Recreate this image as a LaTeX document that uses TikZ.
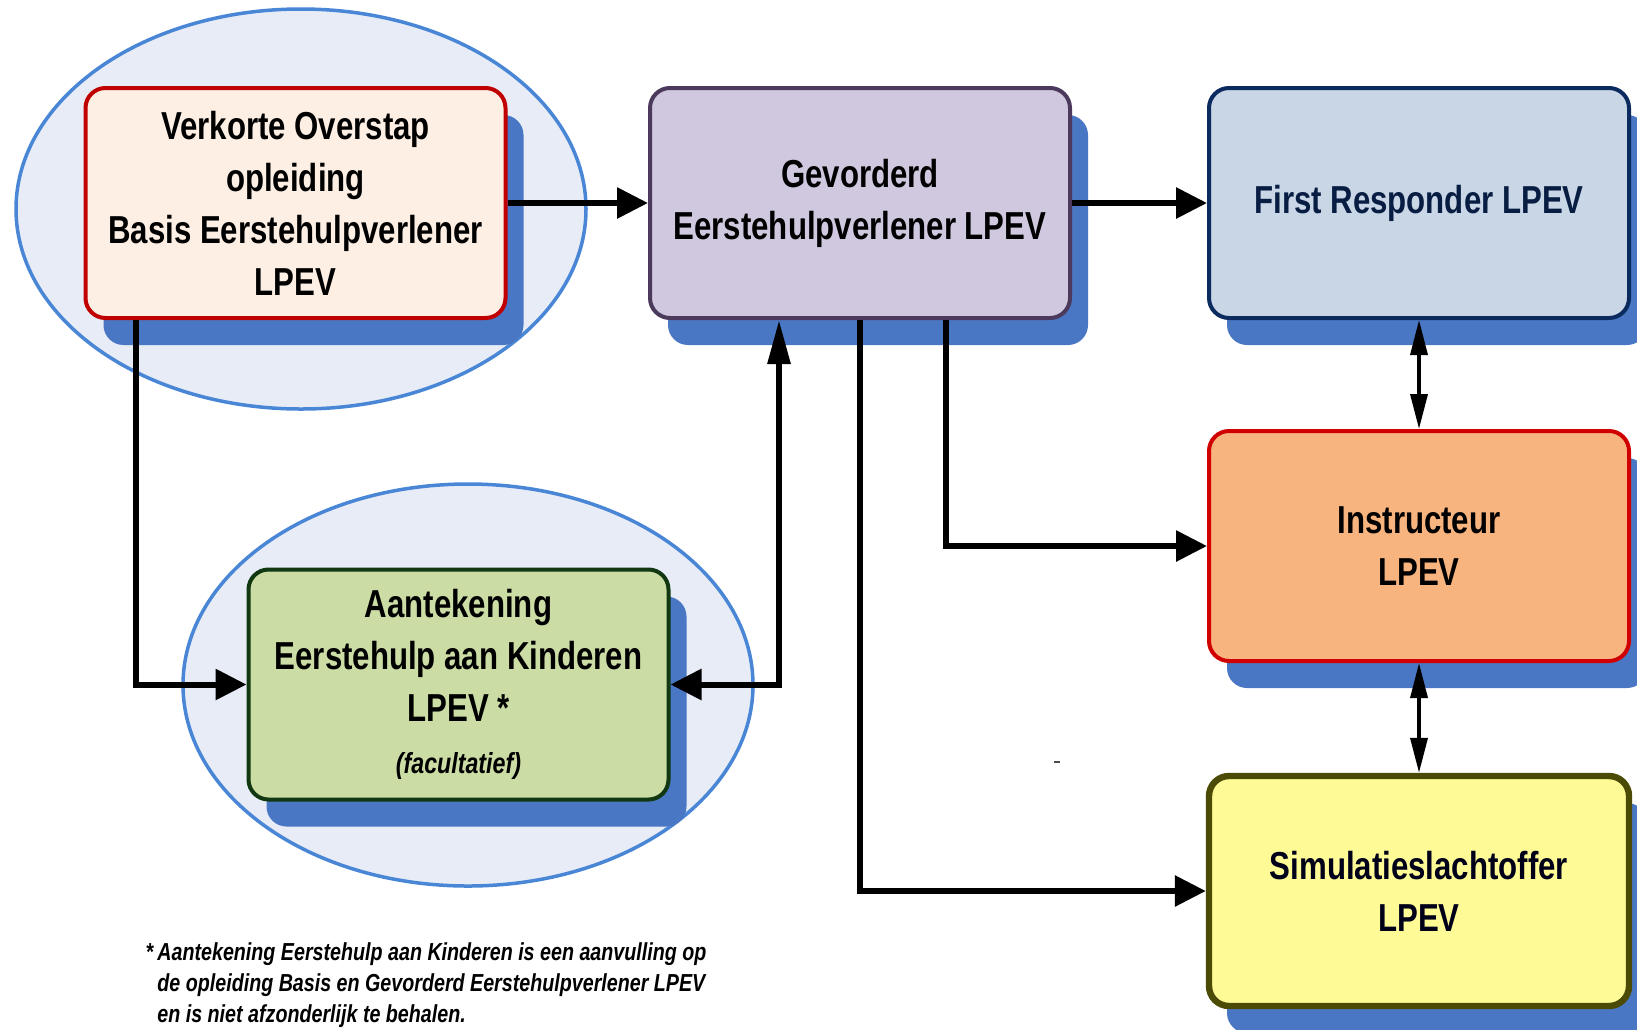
\documentclass[tikz,border=0pt]{standalone}
\usepackage{fontspec}
\setmainfont{Liberation Sans}[FakeStretch=0.8]
\usetikzlibrary{arrows.meta,shadows}
\definecolor{ellfill}{HTML}{E7ECF7}
\definecolor{elledge}{HTML}{4A86D6}
\definecolor{shadowblue}{HTML}{4A77C3}
\definecolor{verkfill}{HTML}{FDEFE4}
\definecolor{verkedge}{HTML}{C00000}
\definecolor{gevfill}{HTML}{D0C8DE}
\definecolor{gevedge}{HTML}{4B3A5C}
\definecolor{frfill}{HTML}{C8D6E6}
\definecolor{fredge}{HTML}{0B2A5E}
\definecolor{aantfill}{HTML}{CBDCA4}
\definecolor{aantedge}{HTML}{113811}
\definecolor{instrfill}{HTML}{F7B47F}
\definecolor{instredge}{HTML}{D00000}
\definecolor{simfill}{HTML}{FEFB96}
\definecolor{simedge}{HTML}{4B4B05}
\tikzset{
  harr/.tip={Triangle[length=15.5pt,width=15pt]},
  varr/.tip={Triangle[length=22pt,width=11pt]},
  darr/.tip={Triangle[length=17.5pt,width=8.5pt]},
}
\begin{document}
\begin{tikzpicture}[x=0.5pt,y=-0.5pt,
  ell/.style={fill=ellfill,draw=elledge,line width=1.75pt},
  box/.style={rectangle,rounded corners=10pt,minimum width=210pt,minimum height=115pt,
    inner sep=0pt,align=center,font=\bfseries\fontsize{19.5}{26}\selectfont,line width=2pt,
    drop shadow={shadow xshift=9pt,shadow yshift=-13.5pt,fill=shadowblue,opacity=1}},
  conn/.style={line width=3pt,black},
  dconn/.style={line width=1.75pt,black,darr-darr},
  note/.style={inner sep=0pt,align=left,font=\bfseries\itshape\fontsize{12.3}{15.5}\selectfont},
]
\useasboundingbox (0,0) rectangle (1637,1029);
% background ellipses
\draw[ell] (301,209) ellipse [x radius=142.5pt,y radius=100pt];
\draw[ell] (468,685) ellipse [x radius=142.5pt,y radius=100.5pt];
% boxes
\node[box,fill=verkfill,draw=verkedge] (verk) at (295.5,203)
  {Verkorte Overstap\\opleiding\\Basis Eerstehulpverlener\\LPEV};
\node[box,fill=gevfill,draw=gevedge] (gev) at (860,203)
  {Gevorderd\\Eerstehulpverlener LPEV};
\node[box,fill=frfill,draw=fredge,text=fredge!70!black] (fr) at (1419,203)
  {First Responder LPEV};
\node[box,fill=aantfill,draw=aantedge] (aant) at (458.5,684.5)
  {Aantekening\\Eerstehulp aan Kinderen\\LPEV *\\{\fontsize{14.5}{26}\selectfont\itshape (facultatief)}};
\node[box,fill=instrfill,draw=instredge] (instr) at (1419,546)
  {Instructeur\\LPEV};
\node[box,fill=simfill,draw=simedge,line width=3.2pt,text=black!90!blue] (sim) at (1419,891)
  {Simulatieslachtoffer\\LPEV};
% footnote
\node[note,anchor=north west] (fn) at (157,942)
  {\llap{*\,}Aantekening Eerstehulp aan Kinderen is een aanvulling op\\
   de opleiding Basis en Gevorderd Eerstehulpverlener LPEV\\
   en is niet afzonderlijk te behalen.};
% stray mark
\draw[line width=1pt,black!70] (1054,762) -- (1060,762);
% connectors
\draw[conn,-harr] (verk.east) -- (gev.west);
\draw[conn,-harr] (gev.east) -- (fr.west);
\draw[conn,-harr] ([xshift=26.25pt]verk.south west) |- (aant.west);
\draw[conn,harr-varr] (aant.east) -| ([xshift=65.5pt]gev.south west);
\draw[conn,-harr] ([xshift=149pt]gev.south west) |- (instr.west);
\draw[conn,-harr] (gev.south) |- (sim.west);
\draw[dconn] (fr.south) -- (instr.north);
\draw[dconn] (instr.south) -- (sim.north);
\end{tikzpicture}
\end{document}
